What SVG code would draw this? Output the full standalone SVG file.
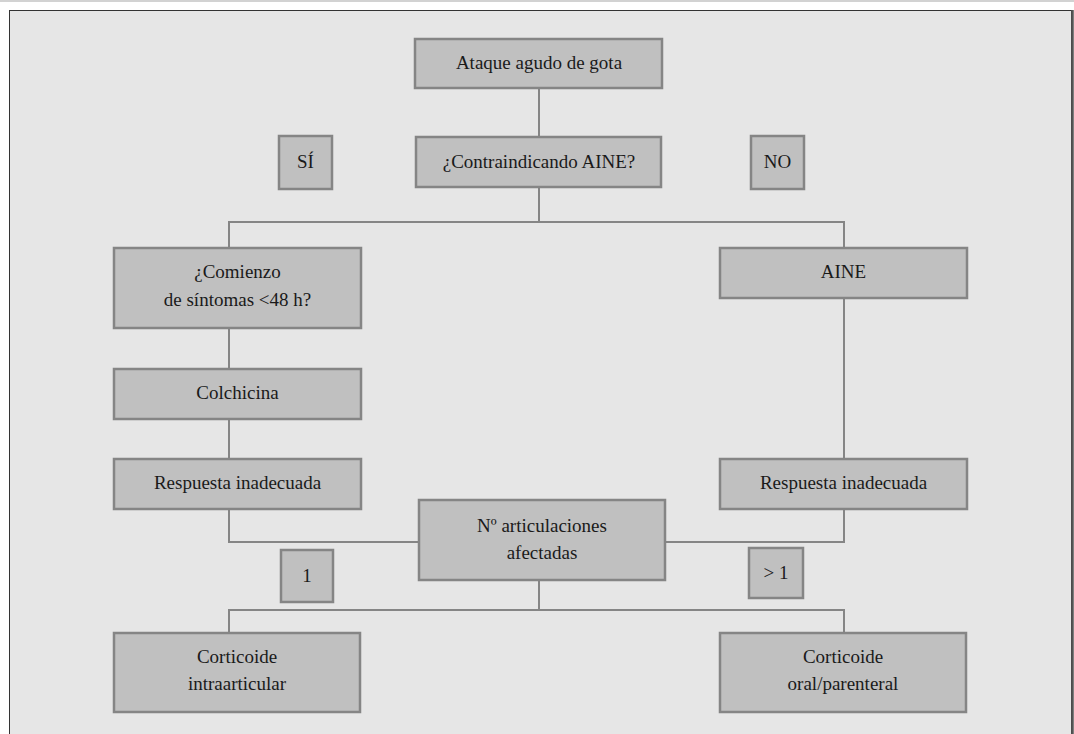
<svg xmlns="http://www.w3.org/2000/svg" width="1074" height="734" viewBox="0 0 1074 734">
<style>
.box{fill:#c0c0c0;stroke:#858585;stroke-width:2.5}
.t{font-family:"Liberation Serif","Times New Roman",serif;font-size:19px;fill:#1a1a1a;text-anchor:middle}
.c{fill:none;stroke:#858585;stroke-width:2}
</style>
<rect x="0" y="0" width="1074" height="734" fill="#ffffff"/>
<line x1="0" y1="1" x2="1074" y2="1" stroke="#d2d2d2" stroke-width="2"/>
<rect x="9.5" y="10.5" width="1062" height="740" fill="#e6e6e6" stroke="#333333" stroke-width="1"/>
<line x1="1072.5" y1="10" x2="1072.5" y2="734" stroke="#555555" stroke-width="2.5"/>
<g id="connectors">
<path class="c" d="M539,89 V136"/>
<path class="c" d="M539,188 V222"/>
<path class="c" d="M229,247 V222 H844 V247"/>
<path class="c" d="M229,329 V368"/>
<path class="c" d="M229,420 V458"/>
<path class="c" d="M844,299 V459"/>
<path class="c" d="M229,510 V542 H418"/>
<path class="c" d="M844,510 V542 H666"/>
<path class="c" d="M539,581 V610"/>
<path class="c" d="M229,632 V610 H844 V632"/>
</g>
<g id="n-ataque"><rect class="box" x="415" y="39" width="247" height="49"/><text class="t" x="539" y="69">Ataque agudo de gota</text></g>
<g id="n-si"><rect class="box" x="279" y="136" width="53" height="53"/><text class="t" x="305.5" y="168">SÍ</text></g>
<g id="n-contra"><rect class="box" x="416" y="137" width="245" height="50"/><text class="t" x="539" y="168">¿Contraindicando AINE?</text></g>
<g id="n-no"><rect class="box" x="751" y="136" width="53" height="53"/><text class="t" x="777.5" y="168">NO</text></g>
<g id="n-comienzo"><rect class="box" x="114" y="248" width="247" height="80"/><text class="t" x="237.5" y="278">¿Comienzo</text><text class="t" x="237.5" y="306">de síntomas &lt;48 h?</text></g>
<g id="n-aine"><rect class="box" x="720" y="248" width="247" height="50"/><text class="t" x="843.5" y="278">AINE</text></g>
<g id="n-colchicina"><rect class="box" x="114" y="369" width="247" height="50"/><text class="t" x="237.5" y="399">Colchicina</text></g>
<g id="n-resp-l"><rect class="box" x="114" y="459" width="247" height="50"/><text class="t" x="237.5" y="489">Respuesta inadecuada</text></g>
<g id="n-resp-r"><rect class="box" x="720" y="459" width="247" height="50"/><text class="t" x="843.5" y="489">Respuesta inadecuada</text></g>
<g id="n-articulaciones"><rect class="box" x="419" y="500" width="246" height="80"/><text class="t" x="542" y="532">Nº articulaciones</text><text class="t" x="542" y="559">afectadas</text></g>
<g id="n-uno"><rect class="box" x="281" y="550" width="52" height="52"/><text class="t" x="307" y="582">1</text></g>
<g id="n-mas"><rect class="box" x="749" y="548" width="54" height="50"/><text class="t" x="776" y="579">&gt; 1</text></g>
<g id="n-cort-l"><rect class="box" x="114" y="633" width="246" height="79"/><text class="t" x="237" y="663">Corticoide</text><text class="t" x="237" y="690">intraarticular</text></g>
<g id="n-cort-r"><rect class="box" x="720" y="633" width="246" height="79"/><text class="t" x="843" y="663">Corticoide</text><text class="t" x="843" y="690">oral/parenteral</text></g>
</svg>
